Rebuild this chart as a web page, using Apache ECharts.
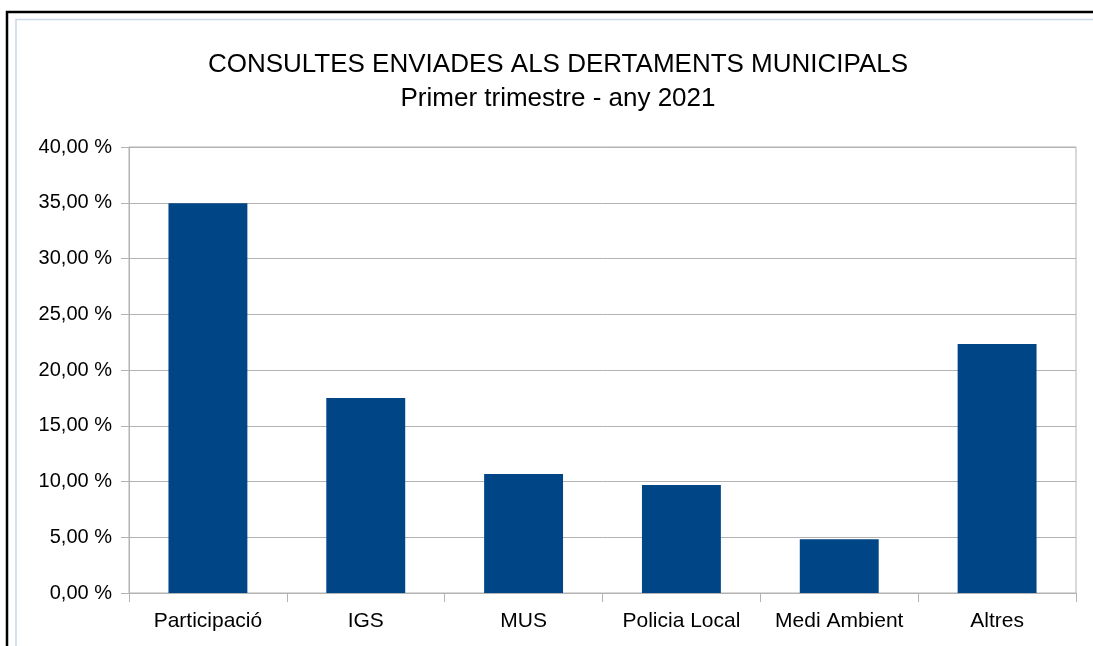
<!DOCTYPE html>
<html>
<head>
<meta charset="utf-8">
<script src="https://cdn.jsdelivr.net/npm/echarts@6/dist/echarts.min.js"></script>
<style>
html,body{margin:0;padding:0;background:#fff;}
#c{width:1093px;height:646px;}
</style>
</head>
<body>
<div id="c"></div>
<script>
const titleText = 'CONSULTES ENVIADES ALS DERTAMENTS MUNICIPALS';
const subtitleText = 'Primer trimestre - any 2021';
const categories = ['Participació', 'IGS', 'MUS', 'Policia Local', 'Medi Ambient', 'Altres'];
const values = [34.95, 17.5, 10.67, 9.69, 4.83, 22.33];
const yTicks = [0, 5, 10, 15, 20, 25, 30, 35, 40];

const chart = echarts.init(document.getElementById('c'), null, {renderer: 'canvas'});
const font = 'Liberation Sans, Arial, sans-serif';
chart.setOption({
  backgroundColor: '#ffffff',
  animation: false,
  graphic: [
    {type: 'rect', shape: {x: 7, y: 12, width: 1200, height: 800}, style: {fill: 'none', stroke: '#000', lineWidth: 2.5}, silent: true, z: -10},
    {type: 'rect', shape: {x: 16, y: 19.5, width: 1200, height: 800}, style: {fill: 'none', stroke: '#c9d8ea', lineWidth: 1.5}, silent: true, z: -10}
  ],
  title: [{
    text: titleText,
    left: 553,
    textAlign: 'center',
    top: 43,
    textStyle: {fontFamily: font, fontSize: 26, fontWeight: 'normal', color: '#000', lineHeight: 34}
  }, {
    text: subtitleText,
    left: 553,
    textAlign: 'center',
    top: 77,
    textStyle: {fontFamily: font, fontSize: 26, fontWeight: 'normal', color: '#000', lineHeight: 34}
  }],
  grid: {left: 129, right: 17, top: 147, bottom: 53, show: true, borderColor: '#b3b3b3', borderWidth: 1},
  xAxis: {
    type: 'category',
    data: categories,
    axisLine: {lineStyle: {color: '#b3b3b3', width: 1}},
    axisTick: {show: true, interval: 0, length: 9, lineStyle: {color: '#b3b3b3'}},
    axisLabel: {interval: 0, fontFamily: font, fontSize: 21, color: '#000', margin: 18}
  },
  yAxis: {
    type: 'value',
    min: yTicks[0],
    max: yTicks[yTicks.length - 1],
    interval: 5,
    axisLine: {show: true, lineStyle: {color: '#b3b3b3', width: 1}},
    axisTick: {show: true, length: 8, lineStyle: {color: '#b3b3b3'}},
    splitLine: {lineStyle: {color: '#b3b3b3', width: 1}},
    axisLabel: {
      fontFamily: font, fontSize: 20, color: '#000', margin: 17,
      formatter: v => v.toFixed(2).replace('.', ',') + ' %'
    }
  },
  series: [{
    type: 'bar',
    data: values,
    barWidth: '50%',
    itemStyle: {color: '#004586'}
  }]
});
</script>
</body>
</html>
